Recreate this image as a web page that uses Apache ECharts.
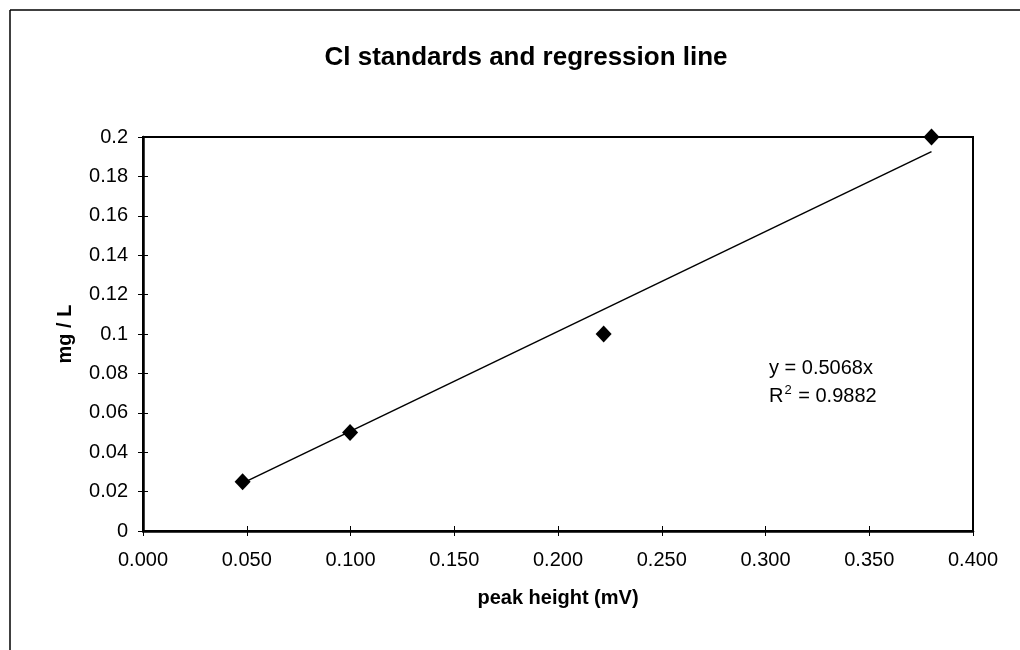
<!DOCTYPE html>
<html>
<head>
<meta charset="utf-8">
<script src="https://cdn.jsdelivr.net/npm/echarts@6/dist/echarts.min.js"></script>
<style>
html,body{margin:0;padding:0;background:#fff;}
#chart{width:1020px;height:650px;}
</style>
</head>
<body>
<div id="chart"></div>
<script>
const peakHeight = [0.048, 0.0998, 0.222, 0.380];
const concentration = [0.025, 0.05, 0.1, 0.2];
const slope = 0.5068;
const rSquared = 0.9882;
const xTicks = [0.000, 0.050, 0.100, 0.150, 0.200, 0.250, 0.300, 0.350, 0.400];
const yTicks = [0, 0.02, 0.04, 0.06, 0.08, 0.1, 0.12, 0.14, 0.16, 0.18, 0.2];

const points = peakHeight.map((x, i) => [x, concentration[i]]);
const xMin = Math.min(...peakHeight), xMax = Math.max(...peakHeight);
const trend = [[xMin, slope * xMin], [xMax, slope * xMax]];

const font = 'Arial, "Liberation Sans", Helvetica, sans-serif';
const chart = echarts.init(document.getElementById('chart'));

const baseX = {
  type: 'value', min: xTicks[0], max: xTicks[xTicks.length - 1], interval: xTicks[1] - xTicks[0],
  splitLine: { show: false }
};
const baseY = {
  type: 'value', min: yTicks[0], max: yTicks[yTicks.length - 1], interval: yTicks[1] - yTicks[0],
  splitLine: { show: false }
};

chart.setOption({
  animation: false,
  backgroundColor: '#fff',
  title: {
    text: 'Cl standards and regression line',
    left: 521, top: 40, textAlign: 'center',
    textStyle: { fontFamily: font, fontSize: 26, fontWeight: 'bold', color: '#000' }
  },
  grid: {
    left: 143, right: 47, top: 137, bottom: 119,
    show: true, borderColor: '#000', borderWidth: 2, backgroundColor: '#fff'
  },
  xAxis: [
    Object.assign({}, baseX, {
      position: 'bottom',
      name: 'peak height (mV)', nameLocation: 'middle', nameGap: 57,
      nameTextStyle: { fontFamily: font, fontSize: 20, fontWeight: 'bold', color: '#000' },
      axisLine: { show: true, lineStyle: { color: '#000', width: 2.5 } },
      axisTick: { show: true, inside: false, length: 5, lineStyle: { color: '#000', width: 1 } },
      axisLabel: {
        fontFamily: font, fontSize: 20, color: '#000', margin: 19,
        formatter: v => v.toFixed(3)
      }
    }),
    Object.assign({}, baseX, {
      position: 'bottom',
      axisLine: { show: false },
      axisTick: { show: true, inside: true, length: 5, lineStyle: { color: '#000', width: 1 } },
      axisLabel: { show: false }
    })
  ],
  yAxis: [
    Object.assign({}, baseY, {
      position: 'left',
      name: 'mg / L', nameLocation: 'middle', nameGap: 68, nameRotate: 90,
      nameTextStyle: { fontFamily: font, fontSize: 20, fontWeight: 'bold', color: '#000' },
      axisLine: { show: true, lineStyle: { color: '#000', width: 2.5 } },
      axisTick: { show: true, inside: false, length: 5, lineStyle: { color: '#000', width: 1 } },
      axisLabel: {
        fontFamily: font, fontSize: 20, color: '#000', margin: 15,
        formatter: v => String(+v.toFixed(2))
      }
    }),
    Object.assign({}, baseY, {
      position: 'left',
      axisLine: { show: false },
      axisTick: { show: true, inside: true, length: 5, lineStyle: { color: '#000', width: 1 } },
      axisLabel: { show: false }
    })
  ],
  series: [
    {
      type: 'line', data: trend, xAxisIndex: 0, yAxisIndex: 0,
      symbol: 'none', lineStyle: { color: '#000', width: 1.5 }, z: 2
    },
    {
      type: 'scatter', data: points, xAxisIndex: 0, yAxisIndex: 0,
      symbol: 'diamond', symbolSize: [16, 17],
      itemStyle: { color: '#000', opacity: 1 }, z: 3
    }
  ],
  graphic: [
    { type: 'line', shape: { x1: 10, y1: 10, x2: 1020, y2: 10 }, style: { stroke: '#000', lineWidth: 1.5 } },
    { type: 'line', shape: { x1: 10, y1: 10, x2: 10, y2: 650 }, style: { stroke: '#000', lineWidth: 1.5 } },
    {
      type: 'text', left: 769, top: 358,
      style: { text: 'y = ' + slope.toFixed(4) + 'x', font: '20px ' + font, fill: '#000' }
    },
    {
      type: 'text', left: 769, top: 384,
      style: {
        text: '{r|R}{s|2}{r| = ' + rSquared.toFixed(4) + '}',
        rich: {
          r: { fontFamily: font, fontSize: 20, color: '#000', lineHeight: 22, verticalAlign: 'bottom' },
          s: { fontFamily: font, fontSize: 13, color: '#000', lineHeight: 22, verticalAlign: 'top', padding: [0, 1, 8, 1] }
        }
      }
    }
  ]
});
</script>
</body>
</html>
